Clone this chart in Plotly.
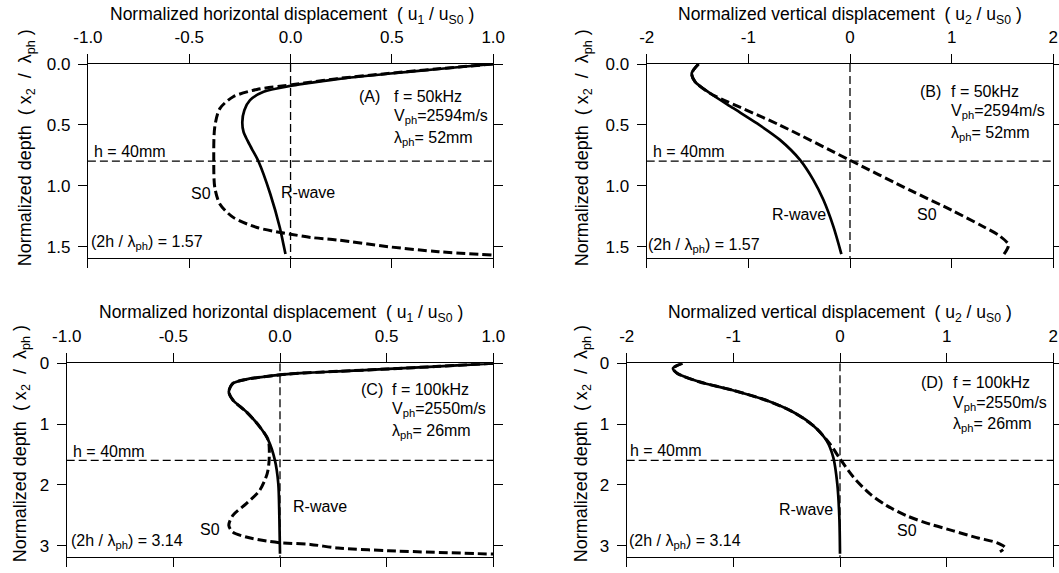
import plotly.graph_objects as go

W, H = 1059, 573

# ---------------- data ----------------
# Panel A : horizontal displacement, f = 50 kHz
a_r_u = [1.0, 0.73, 0.48, 0.23, 0.067, 0.0, -0.133, -0.2, -0.228, -0.238, -0.232, -0.213, -0.19, -0.158, -0.1, -0.053, -0.037, -0.025]
a_r_d = [0.0, 0.041, 0.08, 0.124, 0.162, 0.18, 0.228, 0.297, 0.379, 0.476, 0.558, 0.627, 0.7, 0.8, 1.067, 1.342, 1.465, 1.56]
a_s_u = [1.0, 0.73, 0.48, 0.23, 0.067, 0.0, -0.166, -0.283, -0.349, -0.374, -0.379, -0.374, -0.349, -0.283, -0.166, -0.05, 0.0, 0.1, 0.233, 0.483, 0.73, 1.0]
a_s_d = [0.0, 0.039, 0.078, 0.12, 0.156, 0.173, 0.209, 0.269, 0.366, 0.517, 0.792, 1.012, 1.149, 1.259, 1.342, 1.383, 1.397, 1.424, 1.445, 1.5, 1.541, 1.568]

# Panel B : vertical displacement, f = 50 kHz
b_r_u = [-1.49, -1.557, -1.525, -1.377, -1.148, -0.918, -0.689, -0.492, -0.361, -0.262, -0.164, -0.085]
b_r_d = [0.0, 0.077, 0.145, 0.24, 0.363, 0.486, 0.623, 0.787, 0.951, 1.115, 1.333, 1.56]
b_s_u = [-1.49, -1.557, -1.525, -1.377, -1.27, -0.695, 0.0, 0.6, 1.0, 1.3, 1.47, 1.559, 1.51]
b_s_d = [0.0, 0.077, 0.145, 0.24, 0.285, 0.5, 0.79, 1.04, 1.2, 1.33, 1.41, 1.485, 1.568]

# Panel C : horizontal displacement, f = 100 kHz
c_r_u = [1.0, 0.745, 0.509, 0.272, 0.114, 0.0, -0.158, -0.221, -0.24, -0.221, -0.158, -0.095, -0.055, -0.024, -0.008, -0.003, 0.0]
c_r_d = [0.0, 0.05, 0.093, 0.132, 0.159, 0.19, 0.264, 0.33, 0.467, 0.604, 0.797, 1.044, 1.264, 1.593, 1.978, 2.527, 3.13]
c_s_u = [1.0, 0.745, 0.509, 0.272, 0.114, 0.0, -0.158, -0.221, -0.24, -0.221, -0.158, -0.095, -0.055, -0.051, -0.06, -0.095, -0.158, -0.221, -0.24, -0.221, -0.158, -0.063, 0.0, 0.142, 0.272, 0.509, 1.0]
c_s_d = [0.0, 0.05, 0.093, 0.132, 0.159, 0.19, 0.264, 0.33, 0.467, 0.604, 0.797, 1.044, 1.264, 1.593, 1.813, 2.088, 2.308, 2.5, 2.665, 2.775, 2.857, 2.923, 2.95, 2.978, 3.038, 3.082, 3.137]

# Panel D : vertical displacement, f = 100 kHz
d_r_u = [-1.478, -1.566, -1.525, -1.321, -1.006, -0.692, -0.44, -0.252, -0.126, -0.063, -0.025, -0.006, 0.0]
d_r_d = [0.0, 0.083, 0.166, 0.304, 0.442, 0.608, 0.801, 1.022, 1.271, 1.547, 1.989, 2.541, 3.13]
d_s_u = [-1.478, -1.566, -1.525, -1.321, -1.006, -0.692, -0.44, -0.24, -0.094, 0.0, 0.125, 0.281, 0.438, 0.625, 0.844, 1.063, 1.281, 1.469, 1.547, 1.5]
d_s_d = [0.0, 0.083, 0.166, 0.304, 0.442, 0.608, 0.801, 1.04, 1.326, 1.57, 1.871, 2.147, 2.34, 2.507, 2.645, 2.755, 2.866, 2.949, 3.03, 3.1]

u1_ticks = [-1.0, -0.5, 0.0, 0.5, 1.0]
u1_labels = ["-1.0", "-0.5", "0.0", "0.5", "1.0"]
u2_ticks = [-2, -1, 0, 1, 2]
u2_labels = ["-2", "-1", "0", "1", "2"]
d50_ticks = [0.0, 0.5, 1.0, 1.5]
d50_labels = ["0.0", "0.5", "1.0", "1.5"]
d100_ticks = [0, 1, 2, 3]
d100_labels = ["0", "1", "2", "3"]

depth_max = [1.595, 1.595, 3.19, 3.19]
h_depth = [0.797, 0.797, 1.595, 1.595]

FONT = "Liberation Sans, Arial, sans-serif"

def fx(px):
    return px / W

def fy(py):
    return 1 - py / H

# pixel boxes of the four plot areas: (left, right, top, bottom)
boxes = [(87.9, 493.2, 64.0, 258.3),
         (646.7, 1053.3, 64.0, 258.3),
         (66.7, 493.3, 363.3, 557.3),
         (626.7, 1053.3, 363.3, 557.3)]

fig = go.Figure()

panels = [
    (a_r_u, a_r_d, a_s_u, a_s_d, [-1, 1], u1_ticks, u1_labels, d50_ticks, d50_labels),
    (b_r_u, b_r_d, b_s_u, b_s_d, [-2, 2], u2_ticks, u2_labels, d50_ticks, d50_labels),
    (c_r_u, c_r_d, c_s_u, c_s_d, [-1, 1], u1_ticks, u1_labels, d100_ticks, d100_labels),
    (d_r_u, d_r_d, d_s_u, d_s_d, [-2, 2], u2_ticks, u2_labels, d100_ticks, d100_labels),
]

layout = {}
shapes = []
for i, (ru, rd, su, sd, xr, xt, xl, yt, yl) in enumerate(panels):
    n = "" if i == 0 else str(i + 1)
    xa, ya = "x" + n, "y" + n
    l, r, t, b = boxes[i]
    fig.add_trace(go.Scatter(x=su, y=sd, mode="lines", xaxis=xa, yaxis=ya,
                             line=dict(color="black", width=3, dash="9px,4px", shape="spline", smoothing=0.8),
                             showlegend=False, hoverinfo="skip"))
    fig.add_trace(go.Scatter(x=ru, y=rd, mode="lines", xaxis=xa, yaxis=ya,
                             line=dict(color="black", width=2.7, shape="spline", smoothing=0.8),
                             showlegend=False, hoverinfo="skip"))
    common = dict(showline=True, linecolor="black", linewidth=1.2, mirror="ticks",
                  ticks="outside", ticklen=9, tickwidth=1.2, tickcolor="black",
                  showgrid=False, zeroline=False, automargin=False,
                  tickfont=dict(family=FONT, size=17, color="black"))
    layout["xaxis" + n] = dict(domain=[fx(l), fx(r)], range=xr, side="top", anchor=ya,
                               tickmode="array", tickvals=xt, ticktext=xl, ticklabelstandoff=4, **common)
    layout["yaxis" + n] = dict(domain=[fy(b), fy(t)], range=[depth_max[i], 0], anchor=xa,
                               tickmode="array", tickvals=yt, ticktext=yl, ticklabelstandoff=4, **common)
    # reference dashed lines
    shapes.append(dict(type="line", xref=xa, yref=ya, x0=0, x1=0, y0=0, y1=depth_max[i],
                       line=dict(color="black", width=1.3, dash="8px,4px")))
    shapes.append(dict(type="line", xref=xa, yref=ya, x0=xr[0], x1=xr[1], y0=h_depth[i], y1=h_depth[i],
                       line=dict(color="black", width=1.3, dash="8px,4px")))

ann = []

def text(px, py, s, xanchor="left", size=16, angle=0):
    ann.append(dict(x=fx(px), y=fy(py), xref="paper", yref="paper", text=s, showarrow=False,
                    xanchor=xanchor, yanchor="middle", textangle=angle, align="left",
                    font=dict(family=FONT, size=size, color="black")))

h_title = "Normalized horizontal displacement&nbsp; ( u<sub>1</sub> / u<sub>S0</sub> )"
v_title = "Normalized vertical displacement&nbsp; ( u<sub>2</sub> / u<sub>S0</sub> )"
y_title = "Normalized depth&nbsp; ( x<sub>2</sub>&nbsp; /&nbsp; λ<sub>ph</sub> )"

text(292, 15.5, h_title, "center", 17.5)
text(850, 15.5, v_title, "center", 17.5)
text(281, 313, h_title, "center", 17.5)
text(840.0, 313, v_title, "center", 17.5)
text(26.3, 148, y_title, "center", 18, -90)
text(583.3, 148, y_title, "center", 18, -90)
text(21.2, 444, y_title, "center", 18, -90)
text(582.2, 444, y_title, "center", 18, -90)

info = [
    ("(A)", 357, 392, 96.4, "50kHz", "2594", "52"),
    ("(B)", 918, 949, 91.4, "50kHz", "2594", "52"),
    ("(C)", 359, 389.5, 389.2, "100kHz", "2550", "26"),
    ("(D)", 918.5, 950.5, 382.9, "100kHz", "2550", "26"),
]
for lab, xl0, xb, yc, f, v, lam in info:
    text(xl0, yc, lab)
    text(xb, yc, "f = " + f)
    text(xb, yc + 20.5, "V<sub>ph</sub>=" + v + "m/s")
    text(xb, yc + 42, "λ<sub>ph</sub>= " + lam + "mm")

text(92, 151.5, "h = 40mm")
text(651, 151.5, "h = 40mm")
text(70.5, 451.5, "h = 40mm")
text(628, 450.8, "h = 40mm")

text(88.5, 243, "(2h / λ<sub>ph</sub>) = 1.57")
text(645.5, 245, "(2h / λ<sub>ph</sub>) = 1.57")
text(68.5, 541, "(2h / λ<sub>ph</sub>) = 3.14")
text(626.5, 541, "(2h / λ<sub>ph</sub>) = 3.14")

text(201.4, 193.3, "S0", "center")
text(307.5, 192.6, "R-wave", "center")
text(799.2, 215, "R-wave", "center")
text(927.4, 215, "S0", "center")
text(319.5, 506.2, "R-wave", "center")
text(209.9, 529.4, "S0", "center")
text(806.3, 509.5, "R-wave", "center")
text(907.4, 530, "S0", "center")

fig.update_layout(template="none", width=W, height=H, autosize=False,
                  margin=dict(l=0, r=0, t=0, b=0, pad=0),
                  paper_bgcolor="white", plot_bgcolor="white",
                  shapes=shapes, annotations=ann, **layout)

fig.write_html("out.html")
